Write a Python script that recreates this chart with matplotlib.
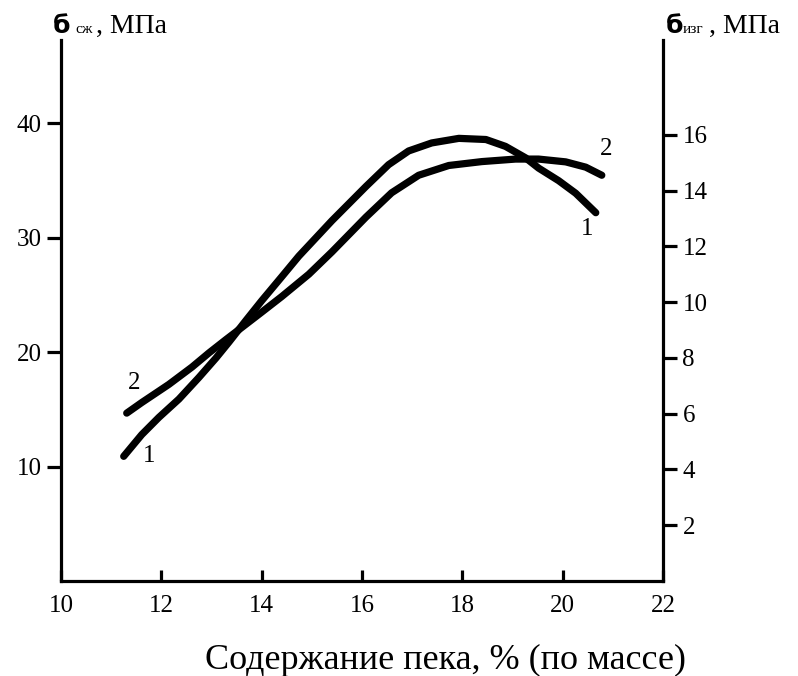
"""Strength vs pitch content: two curves, twin y axes."""

import matplotlib

matplotlib.use("Agg")
import matplotlib.pyplot as plt

plt.rcParams["font.family"] = ["Liberation Serif", "DejaVu Serif"]

# curve 1, left axis (MPa)
pitch_1 = [11.25, 11.61, 11.95, 12.35, 12.75, 13.09, 13.35, 13.69, 14.00, 14.40,
           14.74, 15.40, 16.08, 16.53, 16.93, 17.39, 17.93, 18.47, 18.86, 19.26,
           19.52, 19.92, 20.26, 20.66]
sigma_1 = [10.9, 12.8, 14.3, 15.9, 17.8, 19.5, 20.9, 22.8, 24.5, 26.6,
           28.4, 31.5, 34.5, 36.4, 37.6, 38.3, 38.7, 38.6, 38.0, 37.0,
           36.1, 35.0, 33.9, 32.2]

# curve 2, right axis (MPa)
pitch_2 = [11.31, 11.61, 12.15, 12.61, 12.95, 13.29, 13.61, 14.00, 14.40, 14.94,
           15.40, 16.08, 16.59, 17.13, 17.73, 18.39, 19.06, 19.52, 20.06, 20.46,
           20.78]
sigma_2 = [6.02, 6.40, 7.05, 7.67, 8.18, 8.66, 9.10, 9.64, 10.20, 11.00,
           11.80, 13.05, 13.92, 14.55, 14.90, 15.04, 15.13, 15.13, 15.03, 14.84,
           14.55]

x_ticks = [10, 12, 14, 16, 18, 20, 22]
left_ticks = [10, 20, 30, 40]
right_ticks = [2, 4, 6, 8, 10, 12, 14, 16]

W, H = 798, 676
fig = plt.figure(figsize=(W / 100, H / 100), dpi=100)


def fpos(x, y):
    return x / W, 1 - y / H


ax = fig.add_axes([61 / W, 95 / H, 602 / W, 541 / H])
ax2 = ax.twinx()

line_kw = dict(color="black", lw=5.2, solid_capstyle="round", solid_joinstyle="round")
ax.plot(pitch_1, sigma_1, **line_kw)
ax2.plot(pitch_2, sigma_2, **line_kw)

ax.set_xlim(10, 22)
ax.set_ylim(0, 47.3)
ax2.set_ylim(0, 19.4)

ax.set_xticks(x_ticks)
ax.set_yticks(left_ticks)
ax2.set_yticks(right_ticks)

for a in (ax, ax2):
    a.spines["top"].set_visible(False)
    for s in a.spines.values():
        s.set_linewidth(2.3)
ax.spines["right"].set_visible(False)
ax2.spines["left"].set_visible(False)
ax2.spines["bottom"].set_visible(False)

ax.tick_params(axis="x", direction="in", length=8, width=2.3, labelsize=18, pad=10)
ax.tick_params(axis="y", direction="out", length=10, width=2.3, labelsize=18, pad=4)
ax2.tick_params(axis="y", direction="out", length=10, width=2.3, labelsize=18, pad=4)

# curve numbers
ax.text(11.45, 17.3, "2", fontsize=18, ha="center", va="center")
ax.text(11.75, 10.9, "1", fontsize=18, ha="center", va="center")
ax.text(20.86, 37.8, "2", fontsize=18, ha="center", va="center")
ax.text(20.48, 30.8, "1", fontsize=18, ha="center", va="center")

# axis titles
fig.text(*fpos(445, 660), "Содержание пека, % (по массе)", fontsize=26,
         ha="center", va="center")

fig.text(*fpos(53, 33), "б", fontsize=18, fontweight="bold",
         family=["DejaVu Sans"], ha="left", va="baseline")
fig.text(*fpos(75, 33), "сж", fontsize=11, ha="left", va="baseline")
fig.text(*fpos(96, 33), ", МПа", fontsize=20, ha="left", va="baseline")

fig.text(*fpos(666, 33), "б", fontsize=18, fontweight="bold",
         family=["DejaVu Sans"], ha="left", va="baseline")
fig.text(*fpos(683, 33), "изг", fontsize=11, ha="left", va="baseline")
fig.text(*fpos(709, 33), ", МПа", fontsize=20, ha="left", va="baseline")

fig.savefig("out.png", dpi=100)
